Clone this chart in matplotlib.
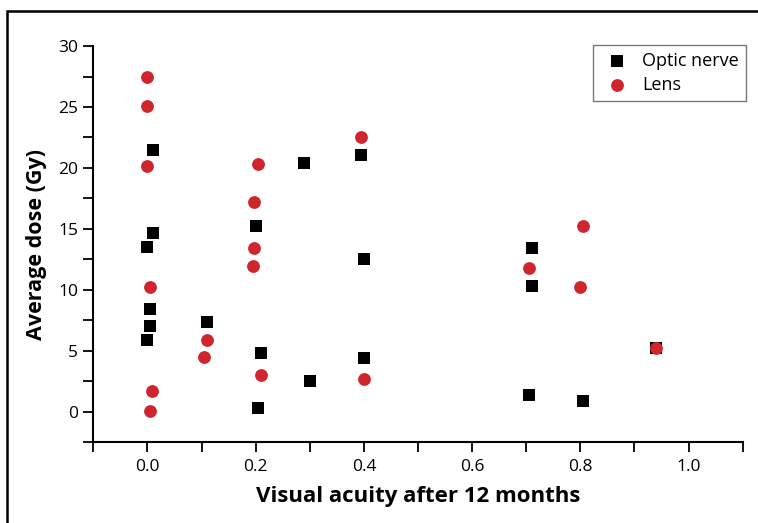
import matplotlib
matplotlib.use("Agg")
import matplotlib.pyplot as plt
from matplotlib.ticker import MultipleLocator
from matplotlib.patches import Rectangle

plt.rcParams['font.family'] = ['Open Sans', 'DejaVu Sans']

optic_x = [0.01, 0.01, 0.0, 0.20, 0.29, 0.395, 0.005, 0.005, 0.0, 0.11, 0.21,
           0.205, 0.30, 0.40, 0.40, 0.71, 0.71, 0.705, 0.805, 0.94]
optic_y = [21.5, 14.7, 13.5, 15.2, 20.4, 21.1, 8.4, 7.0, 5.9, 7.4, 4.8,
           0.3, 2.5, 12.5, 4.4, 13.4, 10.3, 1.4, 0.9, 5.2]

lens_x = [0.0, 0.0, 0.395, 0.0, 0.205, 0.197, 0.197, 0.196, 0.005, 0.11, 0.105,
          0.21, 0.40, 0.008, 0.005, 0.705, 0.80, 0.94, 0.805]
lens_y = [27.5, 25.1, 22.5, 20.2, 20.3, 17.2, 13.4, 12.0, 10.2, 5.9, 4.5,
          3.0, 2.7, 1.7, 0.05, 11.8, 10.2, 5.2, 15.2]

x_ticks = [0.0, 0.2, 0.4, 0.6, 0.8, 1.0]
y_ticks = [0, 5, 10, 15, 20, 25, 30]

fig = plt.figure(figsize=(7.58, 5.23), dpi=100)
ax = fig.add_axes([0.1231, 0.1543, 0.9798 - 0.1231, 0.912 - 0.1543])

# figure frame
fig.patches.append(Rectangle((7 / 758, -0.1), 1.2, (1 - 11 / 523) + 0.1,
                             transform=fig.transFigure, fill=False,
                             edgecolor='black', linewidth=1.8))

ax.scatter(optic_x, optic_y, marker='s', s=80, color='black', linewidths=0,
           label='Optic nerve', zorder=3)
ax.scatter(lens_x, lens_y, marker='o', s=85, color='#cf252d', linewidths=0,
           label='Lens', zorder=4)

ax.set_xlim(-0.1, 1.1)
ax.set_ylim(-2.5, 30)
ax.set_xticks(x_ticks)
ax.set_xticklabels([f"{v:.1f}" for v in x_ticks])
ax.set_yticks(y_ticks)
ax.set_yticklabels([str(v) for v in y_ticks])
ax.xaxis.set_minor_locator(MultipleLocator(0.1))
ax.yaxis.set_minor_locator(MultipleLocator(2.5))
ax.tick_params(which='both', direction='out', length=7, width=1.3,
               labelsize=12.5, colors='black')
ax.tick_params(axis='x', pad=5)
ax.tick_params(axis='y', pad=4)

for s in ['top', 'right']:
    ax.spines[s].set_visible(False)
for s in ['left', 'bottom']:
    ax.spines[s].set_linewidth(1.5)

ax.set_xlabel('Visual acuity after 12 months', fontsize=16, fontweight='bold',
              labelpad=8)
ax.set_ylabel('Average dose (Gy)', fontsize=15.5, fontweight='bold', labelpad=8)

leg = ax.legend(loc='upper right', bbox_to_anchor=(746 / 758, 1 - 45 / 523),
                bbox_transform=fig.transFigure, borderaxespad=0,
                fontsize=13, frameon=True, fancybox=False, edgecolor='#555555',
                handletextpad=0.5, borderpad=0.4, labelspacing=0.3,
                handlelength=1.8, scatterpoints=1)
leg.get_frame().set_linewidth(1.0)

fig.savefig('out.png', dpi=100)
